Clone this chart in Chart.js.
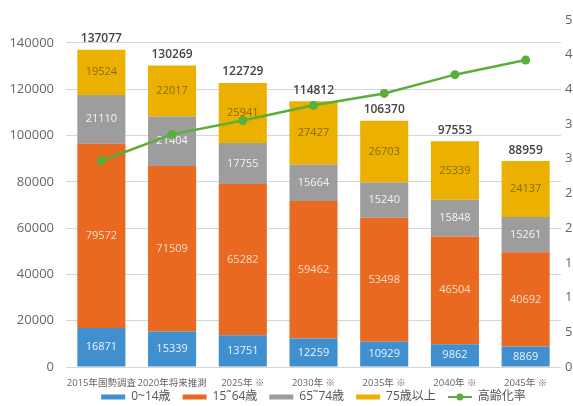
<!DOCTYPE html>
<html>
<head>
<meta charset="utf-8">
<script src="https://cdn.jsdelivr.net/npm/chart.js@4"></script>
<style>
  html, body { margin: 0; padding: 0; background: #fff; overflow: hidden; }
  canvas { display: block; }
</style>
</head>
<body>
<canvas id="grafico" width="573" height="406"></canvas>
<script>
// datos
const categorias = ['2015年国勢調査', '2020年将来推測', '2025年 ※', '2030年 ※', '2035年 ※', '2040年 ※', '2045年 ※'];
const edad0a14 = [16871, 15339, 13751, 12259, 10929, 9862, 8869];
const edad15a64 = [79572, 71509, 65282, 59462, 53498, 46504, 40692];
const edad65a74 = [21110, 21404, 17755, 15664, 15240, 15848, 15261];
const edad75mas = [19524, 22017, 25941, 27427, 26703, 25339, 24137];
const totales = [137077, 130269, 122729, 114812, 106370, 97553, 88959];
const tasaEnvejecimiento = [29.7, 33.5, 35.5, 37.7, 39.4, 42.1, 44.2];
const ticksIzq = [0, 20000, 40000, 60000, 80000, 100000, 120000, 140000];

const FUENTE = '"Open Sans", "Noto Sans CJK JP", sans-serif';
const colorEtiqueta = ['#eaf2fa', '#f8dcc6', '#f4f4f4', '#8a6a08'];
const VERDE = '#5aae3c';

// icono de la leyenda para la linea (linea con punto)
const iconoLinea = document.createElement('canvas');
iconoLinea.width = 24; iconoLinea.height = 8;
(function () {
    const c = iconoLinea.getContext('2d');
    c.strokeStyle = VERDE; c.lineWidth = 2;
    c.beginPath(); c.moveTo(0, 4); c.lineTo(24, 4); c.stroke();
    c.fillStyle = VERDE;
    c.beginPath(); c.arc(12, 4, 3.5, 0, Math.PI * 2); c.fill();
})();

// etiquetas de valores dentro de las barras y totales encima
const etiquetasBarras = {
    id: 'etiquetasBarras',
    afterDatasetDraw(chart, args) {
        const ds = chart.data.datasets[args.index];
        if (ds.type === 'line') return;
        const ctx = chart.ctx;
        ctx.save();
        ctx.textAlign = 'center';
        ctx.textBaseline = 'middle';
        ctx.font = '11px ' + FUENTE;
        ctx.fillStyle = colorEtiqueta[args.index];
        args.meta.data.forEach((el, i) => {
            ctx.fillText(ds.data[i], el.x, (el.y + el.base) / 2);
        });
        if (args.index === 3) {
            ctx.font = '600 12px ' + FUENTE;
            ctx.fillStyle = '#444';
            args.meta.data.forEach((el, i) => {
                ctx.fillText(totales[i], el.x, el.y - 11);
            });
        }
        ctx.restore();
    }
};

// leyenda compacta: altura fija y pegada bajo el eje x
const leyendaCompacta = {
    id: 'leyendaCompacta',
    beforeUpdate(chart) {
        const lg = chart.legend;
        if (lg && !lg._parcheado) {
            const fitOriginal = lg.fit.bind(lg);
            lg.fit = function () { fitOriginal(); this.height = 17; };
            lg._parcheado = true;
        }
    },
    afterLayout(chart) {
        // la leyenda recorta su dibujo a su caja, asi que la caja llega hasta abajo
        const lg = chart.legend;
        lg.top = 379;
        lg.bottom = chart.height;
    }
};

const ctx = document.getElementById('grafico').getContext('2d');
new Chart(ctx, {
    data: {
        labels: categorias,
        datasets: [
            { type: 'bar', label: '0~14歳', data: edad0a14, backgroundColor: '#4090d0', order: 1 },
            { type: 'bar', label: '15˜64歳', data: edad15a64, backgroundColor: '#e8691f', order: 1 },
            { type: 'bar', label: '65˜74歳', data: edad65a74, backgroundColor: '#9d9d9d', order: 1 },
            { type: 'bar', label: '75歳以上', data: edad75mas, backgroundColor: '#ebb000', order: 1 },
            {
                type: 'line', label: '高齢化率', data: tasaEnvejecimiento, yAxisID: 'y1', order: 0,
                borderColor: VERDE, backgroundColor: VERDE, borderWidth: 2.5,
                pointStyle: 'circle', pointRadius: 4.5, pointBackgroundColor: VERDE, pointBorderWidth: 0
            }
        ]
    },
    options: {
        responsive: false,
        animation: false,
        devicePixelRatio: 1,
        layout: { padding: { top: 16, left: 0, right: 0, bottom: 0 } },
        datasets: { bar: { barPercentage: 0.68, categoryPercentage: 1, borderWidth: 0 } },
        plugins: {
            tooltip: { enabled: false },
            legend: {
                position: 'bottom',
                fullSize: false,
                labels: {
                    usePointStyle: true,
                    pointStyleWidth: 24,
                    boxHeight: 5,
                    padding: 12,
                    color: '#555',
                    font: { size: 12, family: FUENTE },
                    sort: (a, b) => a.datasetIndex - b.datasetIndex,
                    generateLabels(chart) {
                        const items = Chart.defaults.plugins.legend.labels.generateLabels(chart);
                        items.forEach(it => {
                            it.pointStyle = it.datasetIndex === 4 ? iconoLinea : 'rect';
                            it.lineWidth = 0;
                        });
                        return items;
                    }
                }
            }
        },
        scales: {
            x: {
                stacked: true,
                grid: { display: false },
                border: { display: false },
                ticks: { color: '#666', font: { size: 9.5, family: FUENTE }, maxRotation: 0, autoSkip: false, padding: 3 },
                afterFit(scale) { scale.height = 22; }
            },
            y: {
                stacked: true,
                min: 0,
                max: 150000,
                border: { display: false },
                grid: { color: '#d6d6d6', drawTicks: false },
                afterBuildTicks(scale) { scale.ticks = ticksIzq.map(v => ({ value: v })); },
                ticks: { color: '#666', font: { size: 13, family: FUENTE }, padding: 12, callback: v => String(v) },
                afterFit(scale) { scale.width = 66; }
            },
            y1: {
                position: 'right',
                min: 0,
                max: 50,
                border: { display: false },
                grid: { drawOnChartArea: false, drawTicks: false },
                ticks: { stepSize: 5, color: '#666', font: { size: 13, family: FUENTE }, padding: 4, callback: v => v + '%' },
                afterFit(scale) { scale.width = 12; }
            }
        }
    },
    plugins: [etiquetasBarras, leyendaCompacta]
});
</script>
</body>
</html>
